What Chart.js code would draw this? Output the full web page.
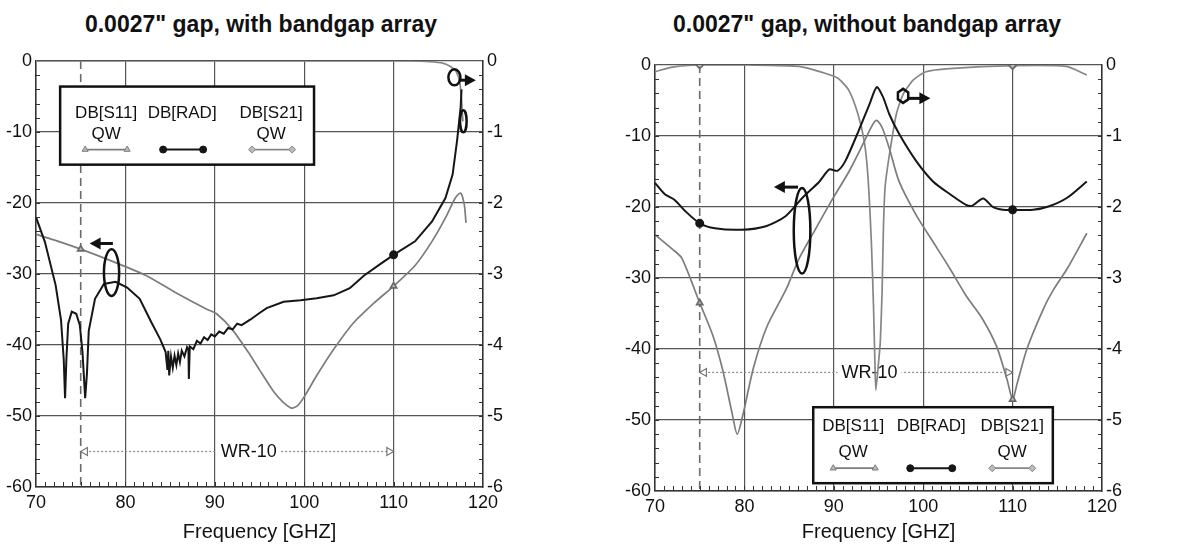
<!DOCTYPE html>
<html>
<head>
<meta charset="utf-8">
<script src="https://cdn.jsdelivr.net/npm/chart.js@4.4.1/dist/chart.umd.min.js"></script>
<style>
  body { margin:0; background:#fff; width:1180px; height:553px; position:relative; overflow:hidden;
         font-family:"Liberation Sans", Arial, sans-serif; }
  .title { position:absolute; top:13px; font-weight:bold; font-size:23px; line-height:1; color:#111;
           white-space:nowrap; transform:translateX(-50%); }
  canvas { position:absolute; top:0; }
</style>
</head>
<body>
<div class="title" style="left:261px">0.0027" gap, with bandgap array</div>
<div class="title" style="left:867px">0.0027" gap, without bandgap array</div>
<canvas id="withChart" width="590" height="553" style="left:0"></canvas>
<canvas id="withoutChart" width="590" height="553" style="left:590px"></canvas>
<script>
// axis ticks
const freqTicks = [70, 80, 90, 100, 110, 120];
const dbTicks = [0, -10, -20, -30, -40, -50, -60];
const s21Ticks = [0, -1, -2, -3, -4, -5, -6];
const bandEdges = [75, 110];
const legendNames = ['DB[S11]', 'DB[RAD]', 'DB[S21]'];
const legendSub = ['QW', '', 'QW'];

// 0.0027" gap, with bandgap array
const withS11Freq = [70, 72, 75, 78.9, 82.3, 85.6, 89, 90.2, 92, 94, 95, 96.6, 97.6, 98.6, 99.3, 100.1, 101.4, 103.3, 105.5, 107.8, 110, 112.4, 114.3, 115.8, 116.9, 117.5, 117.9, 118.1];
const withS11Db = [-24.4, -25.2, -26.5, -28.4, -30.2, -32.6, -34.9, -35.6, -37.9, -41.5, -43.5, -46.6, -48.0, -48.9, -48.5, -47.1, -44.3, -40.6, -36.9, -34.1, -31.7, -28.8, -25.4, -22.1, -19.3, -18.6, -20.2, -22.8];

const withRadFreq = [70, 71, 72.2, 72.8, 73.1, 73.25, 73.4, 73.6, 74.0, 74.5, 74.9, 75.2, 75.5, 75.7, 75.9, 76.6, 77.6, 78.9, 80.2, 81.6, 82.9, 83.9, 84.5, 84.7, 84.8, 84.9, 85.1, 85.3, 85.5, 85.7, 85.9, 86.1, 86.3, 86.6, 86.9, 87.05, 87.1, 87.2, 87.6, 88.0, 88.4, 88.8, 89.2, 89.6, 90.0, 90.5, 91.0, 91.5, 92.0, 92.5, 93.0, 94.0, 95.0, 95.8, 97.7, 99.6, 101.4, 103.3, 105.1, 106.7, 108.5, 110, 112.4, 114.3, 115.8, 116.6, 117.1, 117.5, 117.6];
const withRadDb = [-22, -25.5, -31.6, -36.5, -42, -47.5, -42, -37, -35.3, -35.6, -37.2, -41, -47.5, -44, -38, -33.5, -31.4, -31.1, -31.9, -33.5, -36.8, -39.2, -41, -43.5, -40.8, -44.3, -41.6, -43.2, -41.5, -42.8, -41.2, -42.4, -40.8, -41.6, -40.3, -40.6, -44.8, -40.2, -40.6, -39.4, -39.8, -38.9, -39.3, -38.5, -38.8, -38.1, -38.4, -37.6, -37.8, -37.0, -37.2, -36.4, -35.5, -34.8, -33.9, -33.7, -33.4, -33.0, -32.0, -30.2, -28.6, -27.3, -25.4, -22.6, -19.3, -16, -11.2, -6.5, -4];

const withS21Freq = [70, 75, 80, 90, 100, 110, 112, 114, 115.5, 116.4, 117.0, 117.4, 117.6, 117.75];
const withS21Db = [0, 0, 0, 0, 0, 0, 0, -0.01, -0.03, -0.08, -0.15, -0.3, -0.55, -0.85];
const withWrDb = -55;

// 0.0027" gap, without bandgap array
const woS11Freq = [70, 72, 73, 75, 76.5, 77.6, 78.6, 79.2, 79.9, 81, 82.5, 84.7, 86.1, 88, 89.8, 91.7, 93.2, 94.3, 94.8, 95.4, 96.2, 97.3, 99.2, 101.1, 103, 104.8, 106.5, 108.2, 109.4, 110, 110.5, 111.6, 113.5, 114.6, 116.1, 118.3];
const woS11Db = [-23.9, -26, -27.2, -33.5, -38.2, -43.1, -48.9, -52, -48.9, -42.7, -36.9, -31.5, -27.3, -23, -19, -15, -11.3, -8.5, -7.8, -8.8, -11.7, -16.4, -21.1, -24.9, -28.7, -32.5, -35.5, -39.6, -44.4, -47.1, -44.9, -40, -34.2, -31.6, -28.7, -23.7];

const woRadFreq = [70, 71.1, 72.2, 73.4, 75, 76.7, 79.7, 82.4, 84.6, 86.5, 88.4, 89.5, 90.4, 91.3, 92.8, 94, 94.8, 95.5, 96.2, 97.3, 99.2, 101.1, 103, 104.8, 105.5, 106.7, 107.8, 108.9, 110, 112.3, 114.1, 116.1, 118.3];
const woRadDb = [-16.6, -18.2, -19, -20.6, -22.3, -23, -23.2, -22.7, -21.3, -18.7, -16.4, -14.7, -14.9, -13.5, -9.2, -5.5, -3.1, -4.5, -6.9, -9.7, -13.5, -16.4, -18.2, -19.7, -19.8, -18.8, -20, -20.4, -20.4, -20.4, -19.9, -18.7, -16.4];

const woS21Freq = [70, 72, 75, 80.5, 86.1, 89.1, 90.5, 91.7, 92.7, 93.4, 93.8, 94.2, 94.45, 94.6, 94.7, 95.0, 95.2, 95.4, 95.55, 95.75, 96.3, 97, 97.8, 98.9, 100.3, 102.9, 110, 116, 118.3];
const woS21Db = [-0.095, -0.03, 0, 0, -0.02, -0.12, -0.19, -0.36, -0.69, -1.07, -1.54, -2.49, -3.44, -4.2, -4.58, -4.2, -3.9, -3.2, -2.3, -1.7, -1.2, -0.69, -0.4, -0.21, -0.095, -0.05, -0.01, -0.02, -0.14];
const woWrDb = -43.3;

const FONT = '"Liberation Sans", Arial, sans-serif';
Chart.defaults.font.family = FONT;
Chart.defaults.color = '#111';

const pts = (xs, ys) => xs.map((x, i) => ({ x: x, y: ys[i] }));
const px = (c, v) => c.scales.x.getPixelForValue(v);
const py = (c, v) => c.scales.y.getPixelForValue(v);

function arrow(ctx, x0, y0, x1, y1) {
  const dir = Math.sign(x1 - x0);
  ctx.strokeStyle = '#111';
  ctx.fillStyle = '#111';
  ctx.lineWidth = 3;
  ctx.beginPath();
  ctx.moveTo(x0, y0);
  ctx.lineTo(x1 - dir * 8, y1);
  ctx.stroke();
  ctx.beginPath();
  ctx.moveTo(x1, y1);
  ctx.lineTo(x1 - dir * 11, y1 - 6);
  ctx.lineTo(x1 - dir * 11, y1 + 6);
  ctx.closePath();
  ctx.fill();
}

const decor = {
  id: 'decor',
  afterDatasetDraw(chart, args, o) {
    // WR-10 label sits above its own line but under the curves
    if (args.index !== 4) return;
    const ctx = chart.ctx;
    const x = px(chart, o.wrText[0]), y = py(chart, o.wrText[1]);
    ctx.save();
    ctx.font = '18px ' + FONT;
    const w = ctx.measureText('WR-10').width;
    ctx.fillStyle = '#fff';
    ctx.fillRect(x - w / 2 - 4, y - 10, w + 8, 20);
    ctx.fillStyle = '#111';
    ctx.textAlign = 'center';
    ctx.textBaseline = 'middle';
    ctx.fillText('WR-10', x, y + 1);
    ctx.restore();
  },
  afterDraw(chart, args, o) {
    const ctx = chart.ctx;
    const a = chart.chartArea;
    const xs = chart.scales.x, ys = chart.scales.y, y2 = chart.scales.y2;
    ctx.save();
    // minor ticks
    ctx.strokeStyle = '#333';
    ctx.lineWidth = 1;
    ctx.beginPath();
    for (let f = 71; f < 120; f++) {
      const x = Math.round(xs.getPixelForValue(f)) + 0.5;
      ctx.moveTo(x, a.bottom); ctx.lineTo(x, a.bottom - 5);
    }
    for (let d = -2; d > -60; d -= 2) {
      const y = Math.round(ys.getPixelForValue(d)) + 0.5;
      ctx.moveTo(a.left, y); ctx.lineTo(a.left + 4, y);
    }
    for (let d = -0.2; d > -6; d -= 0.2) {
      const y = Math.round(y2.getPixelForValue(d)) + 0.5;
      ctx.moveTo(a.right, y); ctx.lineTo(a.right - 4, y);
    }
    ctx.stroke();

    // legend box
    const lx = px(chart, o.legendBox[0]), ly = py(chart, o.legendBox[1]);
    const lw = px(chart, o.legendBox[2]) - lx, lh = py(chart, o.legendBox[3]) - ly;
    ctx.fillStyle = '#fff';
    ctx.fillRect(lx, ly, lw, lh);
    ctx.strokeStyle = '#111';
    ctx.lineWidth = 2.5;
    ctx.strokeRect(lx, ly, lw, lh);
    ctx.font = '17px ' + FONT;
    ctx.textAlign = 'center';
    ctx.textBaseline = 'middle';
    const styles = chart.data.datasets;
    const order = [1, 0, 2]; // S11, RAD, S21
    legendNames.forEach((name, i) => {
      ctx.fillStyle = '#111';
      ctx.fillText(name, lx + o.cols[i], ly + o.rows[0]);
      if (legendSub[i]) ctx.fillText(legendSub[i], lx + o.cols[i], ly + o.rows[1]);
      const ds = styles[order[i]];
      const sy = ly + o.rows[2];
      const [s0, s1] = o.samples[i];
      ctx.strokeStyle = ds.borderColor;
      ctx.lineWidth = ds.borderWidth;
      ctx.beginPath();
      ctx.moveTo(lx + s0, sy); ctx.lineTo(lx + s1, sy);
      ctx.stroke();
      ctx.fillStyle = ds.pointBackgroundColor;
      ctx.lineWidth = 1;
      [s0, s1].forEach(s => Chart.helpers.drawPoint(ctx,
        { pointStyle: ds.pointStyle, radius: 3.5, rotation: 0, borderWidth: 1 }, lx + s, sy));
    });

    // callouts
    ctx.strokeStyle = '#111';
    ctx.lineWidth = 2.5;
    o.ellipses.forEach(e => {
      ctx.beginPath();
      ctx.ellipse(px(chart, e[0]), py(chart, e[1]), e[2], e[3], 0, 0, Math.PI * 2);
      ctx.stroke();
    });
    o.hexagons.forEach(h => {
      const cx = px(chart, h[0]), cy = py(chart, h[1]);
      ctx.beginPath();
      for (let k = 0; k < 6; k++) {
        const t = Math.PI / 6 + k * Math.PI / 3;
        const hx = cx + h[2] * 0.85 * Math.cos(t), hy = cy + h[2] * Math.sin(t);
        k ? ctx.lineTo(hx, hy) : ctx.moveTo(hx, hy);
      }
      ctx.closePath();
      ctx.stroke();
    });
    o.arrows.forEach(r => arrow(ctx, px(chart, r[0]), py(chart, r[1]), px(chart, r[2]), py(chart, r[3])));
    ctx.restore();
  }
};

function makeChart(id, d) {
  const marker = list => c => (c.raw && list.includes(c.raw.x)) ? 3.5 : 0;
  return new Chart(document.getElementById(id), {
    type: 'line',
    data: {
      datasets: [
        { label: 'DB[RAD]', data: pts(d.radF, d.radDb), yAxisID: 'y', borderColor: '#161616', borderWidth: 2,
          pointStyle: 'circle', pointBackgroundColor: '#161616', pointBorderColor: '#161616',
          pointRadius: marker(d.radMarks), tension: d.radTension },
        { label: 'DB[S11] QW', data: pts(d.s11F, d.s11Db), yAxisID: 'y', borderColor: '#7c7c7c', borderWidth: 1.7,
          pointStyle: 'triangle', pointBackgroundColor: '#bbb', pointBorderColor: '#6a6a6a',
          pointRadius: marker(d.s11Marks), tension: 0.25 },
        { label: 'DB[S21] QW', data: pts(d.s21F, d.s21Db), yAxisID: 'y2', borderColor: '#868686', borderWidth: 1.7,
          pointStyle: 'rectRot', pointBackgroundColor: '#bbb', pointBorderColor: '#6a6a6a',
          pointRadius: marker(d.s21Marks), tension: 0.2 },
        { label: 'band edge', data: [{ x: bandEdges[0], y: 0 }, { x: bandEdges[0], y: -60 }], yAxisID: 'y',
          borderColor: '#6a6a6a', borderWidth: 1.6, borderDash: [8, 5], pointRadius: 0 },
        { label: 'WR-10', data: [{ x: bandEdges[0] + 0.5, y: d.wrDb }, { x: bandEdges[1] - 0.5, y: d.wrDb }], yAxisID: 'y',
          borderColor: '#8a8a8a', borderWidth: 1.2, borderDash: [2, 2], pointStyle: 'triangle',
          pointRotation: [-90, 90], pointRadius: 4.5, pointBackgroundColor: '#fff', pointBorderColor: '#777' }
      ]
    },
    options: {
      responsive: false,
      animation: false,
      layout: { padding: d.pad },
      plugins: { legend: { display: false }, tooltip: { enabled: false }, decor: d.decor },
      scales: {
        x: {
          type: 'linear', min: 70, max: 120,
          afterBuildTicks: s => { s.ticks = freqTicks.map(v => ({ value: v })); },
          afterFit: s => { s.height = d.xHeight; },
          ticks: { padding: 5, maxRotation: 0, font: { size: 18 }, color: '#111' },
          grid: { color: '#555', lineWidth: 1.2, drawTicks: false },
          border: { color: '#333', width: 1.5 },
          title: { display: true, text: 'Frequency [GHZ]', font: { size: 20 }, color: '#111', padding: { top: 0, bottom: 9 } }
        },
        y: {
          position: 'left', min: -60, max: 0,
          afterBuildTicks: s => { s.ticks = dbTicks.map(v => ({ value: v })); },
          afterFit: s => { s.width = 36; },
          ticks: { padding: 4, font: { size: 18 }, color: '#111' },
          grid: { color: '#555', lineWidth: 1.2, drawTicks: false },
          border: { color: '#333', width: 1.5 }
        },
        y2: {
          position: 'right', min: -6, max: 0,
          afterBuildTicks: s => { s.ticks = s21Ticks.map(v => ({ value: v })); },
          afterFit: s => { s.width = 30; },
          ticks: { padding: 4, font: { size: 18 }, color: '#111' },
          grid: { drawOnChartArea: false, drawTicks: false },
          border: { color: '#333', width: 1.5 }
        }
      }
    },
    plugins: [decor]
  });
}

makeChart('withChart', {
  s11F: withS11Freq, s11Db: withS11Db, radF: withRadFreq, radDb: withRadDb, s21F: withS21Freq, s21Db: withS21Db,
  wrDb: withWrDb, s11Marks: [75, 110], radMarks: [110], s21Marks: [], radTension: 0,
  pad: { left: 0, right: 77, top: 61, bottom: 0 }, xHeight: 66,
  decor: {
    legendBox: [72.7, -3.6, 101.1, -14.6], cols: [46, 122, 211], rows: [27, 48, 63],
    samples: [[25, 67], [103, 143], [192, 232]],
    wrText: [93.8, -55],
    ellipses: [[78.45, -29.8, 7.6, 23.4], [116.8, -2.3, 6, 8], [117.8, -8.5, 3.3, 11]],
    hexagons: [],
    arrows: [[78.6, -25.7, 76.0, -25.7], [117.3, -2.7, 119.2, -2.7]]
  }
});

makeChart('withoutChart', {
  s11F: woS11Freq, s11Db: woS11Db, radF: woRadFreq, radDb: woRadDb, s21F: woS21Freq, s21Db: woS21Db,
  wrDb: woWrDb, s11Marks: [75, 110], radMarks: [75, 110], s21Marks: [75, 110], radTension: 0.25,
  pad: { left: 29, right: 48, top: 65, bottom: 0 }, xHeight: 62,
  decor: {
    legendBox: [87.7, -48.2, 114.5, -58.9], cols: [40, 118, 199], rows: [19, 45, 61],
    samples: [[20, 62], [97, 139], [179, 219]],
    wrText: [94, -43.3],
    ellipses: [[86.45, -23.35, 8.3, 42.8]],
    hexagons: [[97.75, -4.35, 7]],
    arrows: [[86.0, -17.2, 83.3, -17.2], [98.2, -4.7, 100.8, -4.7]]
  }
});
</script>
</body>
</html>
